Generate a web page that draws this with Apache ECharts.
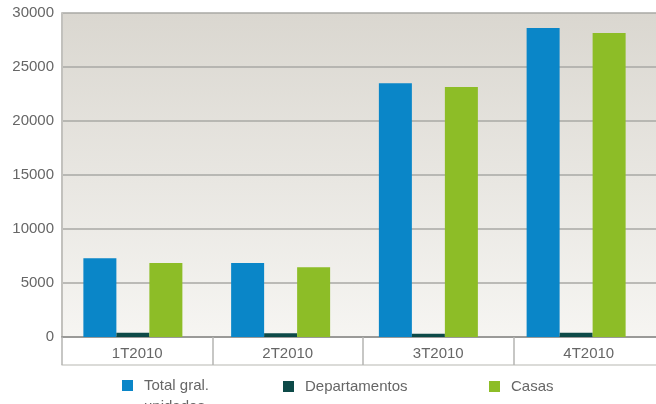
<!DOCTYPE html>
<html>
<head>
<meta charset="utf-8">
<script src="https://cdn.jsdelivr.net/npm/echarts@6/dist/echarts.min.js"></script>
<style>
html,body{margin:0;padding:0;background:#fff;}
#main{width:656px;height:404px;}
</style>
</head>
<body>
<div id="main"></div>
<script>
var categories = ['1T2010', '2T2010', '3T2010', '4T2010'];
var seriesNames = ['Total gral.\nunidades', 'Departamentos', 'Casas'];
var totalUnidades = [7300, 6850, 23500, 28600];
var departamentos = [400, 350, 300, 400];
var casas = [6850, 6450, 23150, 28150];
var yTicks = [0, 5000, 10000, 15000, 20000, 25000, 30000];

var colors = ['#0a86c8', '#0d4a48', '#8dbd27'];
var FONT = '"Liberation Sans", Arial, sans-serif';
var TXT = '#666';

var chart = echarts.init(document.getElementById('main'), null, {renderer: 'canvas'});

var legendBase = function (name, left, top, fmt) {
  var l = {
    data: [name],
    left: left,
    top: top,
    padding: 0,
    icon: 'rect',
    itemWidth: 11,
    itemHeight: 11,
    selectedMode: false,
    textStyle: {fontFamily: FONT, fontSize: 15, color: TXT, lineHeight: 21, padding: [0, 0, 0, 6]}
  };
  if (fmt) { l.formatter = fmt; }
  return l;
};

var option = {
  backgroundColor: '#ffffff',
  animation: false,
  grid: [
    {
      left: 62, width: 602, top: 13, bottom: 67,
      outerBoundsMode: 'none', containLabel: false,
      show: true,
      borderWidth: 0,
      backgroundColor: new echarts.graphic.LinearGradient(0, 0, 0, 1, [
        {offset: 0, color: '#dad7d0'},
        {offset: 1, color: '#f6f5f2'}
      ])
    },
    {left: 59, width: 591, top: 13, bottom: 67, outerBoundsMode: 'none', containLabel: false, show: false}
  ],
  legend: [
    legendBase(seriesNames[0], 122, 354, function (n) { return '\n' + n; }),
    legendBase(seriesNames[1], 283, 376),
    legendBase(seriesNames[2], 489, 376)
  ],
  xAxis: [
    {
      type: 'category', gridIndex: 0, data: categories,
      axisLine: {show: true, lineStyle: {color: '#9a9a98', width: 2}},
      axisTick: {show: true, length: 28, lineStyle: {color: '#b5b5b2', width: 1.5}},
      axisLabel: {fontFamily: FONT, fontSize: 15, color: TXT, margin: 9}
    },
    {
      type: 'category', gridIndex: 0, data: categories, position: 'bottom', offset: 28,
      axisLine: {show: true, lineStyle: {color: '#cfcfcc', width: 1.5}},
      axisTick: {show: false}, axisLabel: {show: false}
    },
    {
      type: 'category', gridIndex: 1, data: categories, show: false
    }
  ],
  yAxis: [
    {
      type: 'value', gridIndex: 0, min: 0, max: 30000, interval: 5000,
      axisLine: {show: true, lineStyle: {color: '#c2c1bd', width: 2}},
      axisTick: {show: false},
      splitLine: {show: true, lineStyle: {color: '#a9a8a4', width: 1.5}},
      axisLabel: {fontFamily: FONT, fontSize: 15, color: TXT, margin: 8,
        formatter: function (v) { return yTicks.indexOf(v) >= 0 ? String(v) : ''; }}
    },
    {
      type: 'value', gridIndex: 1, min: 0, max: 30000, interval: 5000, show: false,
      splitLine: {show: false}
    }
  ],
  series: [
    {name: seriesNames[0], type: 'bar', xAxisIndex: 2, yAxisIndex: 1, data: totalUnidades,
      barWidth: 33, barGap: '0%', itemStyle: {color: colors[0]}},
    {name: seriesNames[1], type: 'bar', xAxisIndex: 2, yAxisIndex: 1, data: departamentos,
      barWidth: 33, barGap: '0%', itemStyle: {color: colors[1]}},
    {name: seriesNames[2], type: 'bar', xAxisIndex: 2, yAxisIndex: 1, data: casas,
      barWidth: 33, barGap: '0%', itemStyle: {color: colors[2]}}
  ]
};
chart.setOption(option);
</script>
</body>
</html>
